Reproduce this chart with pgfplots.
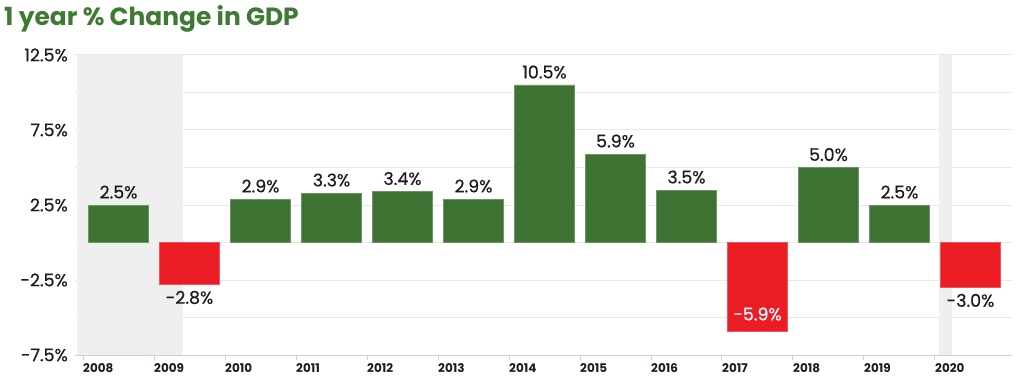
\documentclass[border=0pt]{standalone}
\usepackage{pgfplots}
\pgfplotsset{compat=1.18}
\usepackage{fontspec}
\setmainfont{Poppins}
\newfontfamily\medfont{Poppins}[FakeBold=0.5]
\definecolor{bargreen}{HTML}{3D7233}
\definecolor{barred}{HTML}{EC1C24}
\definecolor{titlegreen}{HTML}{3F7A34}
\definecolor{shade}{HTML}{EFEFEF}
\definecolor{gridc}{HTML}{E9E9E9}
\definecolor{axisc}{HTML}{C8D3E2}
\definecolor{txt}{HTML}{1C1C1C}
\begin{document}
\begin{tikzpicture}[x=1bp,y=1bp]
\useasboundingbox (0,0) rectangle (1024,383);
\node[anchor=base west, inner sep=0pt, text=titlegreen, font=\fontsize{25}{30}\selectfont\bfseries] at (4,358) {1 year \% Change in GDP};
\begin{axis}[
  at={(75bp,28bp)}, anchor=south west, scale only axis,
  width=937bp, height=300bp,
  xmin=-0.613, xmax=12.585, ymin=-7.5, ymax=12.5,
  axis x line*=bottom, axis y line*=left,
  x axis line style={draw=axisc, line width=1bp, -},
  y axis line style={draw=none},
  ytick={-7.5,-2.5,2.5,7.5,12.5},
  yticklabels={-7.5\%,-2.5\%,2.5\%,7.5\%,12.5\%},
  minor ytick={-5,0,5,10},
  ymajorgrids, yminorgrids,
  major grid style={draw=gridc, line width=1bp},
  minor grid style={draw=gridc, line width=1bp},
  ytick style={draw=none},
  xtick={-0.5,0.5,...,11.5},
  xticklabels={2008,2009,2010,2011,2012,2013,2014,2015,2016,2017,2018,2019,2020},
  xtick style={draw=axisc, line width=1bp},
  tick align=outside, major tick length=5bp,
  xticklabel style={anchor=north west, inner sep=0pt, xshift=0bp, yshift=-3bp, text=txt, font=\fontsize{12}{14}\selectfont\bfseries},
  yticklabel style={anchor=east, inner sep=0pt, xshift=-2bp, text=txt, font=\fontsize{17.5}{20}\medfont},
  point meta=explicit symbolic,
]
\addplot[sharp plot, fill=shade, draw=none, forget plot] coordinates {(-0.585,-7.5) (-0.585,12.5) (0.91,12.5) (0.91,-7.5)} -- cycle;
\addplot[sharp plot, fill=shade, draw=none, forget plot] coordinates {(11.56,-7.5) (11.56,12.5) (11.74,12.5) (11.74,-7.5)} -- cycle;
\addplot[ybar, bar width=60bp, bar shift=0pt, fill=bargreen, draw=bargreen!75!white, line width=0.8bp,
  nodes near coords,
  every node near coord/.append style={anchor=south, inner sep=0pt, yshift=6bp, text=txt, font=\fontsize{17.5}{20}\medfont}]
  coordinates {(0,2.5)[2.5\%] (2,2.9)[2.9\%] (3,3.3)[3.3\%] (4,3.4)[3.4\%] (5,2.9)[2.9\%] (6,10.5)[10.5\%] (7,5.9)[5.9\%] (8,3.5)[3.5\%] (10,5.0)[5.0\%] (11,2.5)[2.5\%]};
\addplot[ybar, bar width=60bp, bar shift=0pt, fill=barred, draw=barred!75!white, line width=0.8bp,
  nodes near coords,
  every node near coord/.append style={anchor=north, inner sep=0pt, yshift=-6bp, text=txt, font=\fontsize{17.5}{20}\medfont}]
  coordinates {(1,-2.8)[-2.8\%] (12,-3.0)[-3.0\%]};
\addplot[ybar, bar width=60bp, bar shift=0pt, fill=barred, draw=barred!75!white, line width=0.8bp,
  nodes near coords,
  every node near coord/.append style={anchor=south, inner sep=0pt, yshift=10bp, text=white, font=\fontsize{17.5}{20}\medfont}]
  coordinates {(9,-5.9)[-5.9\%]};
\end{axis}
\end{tikzpicture}
\end{document}
